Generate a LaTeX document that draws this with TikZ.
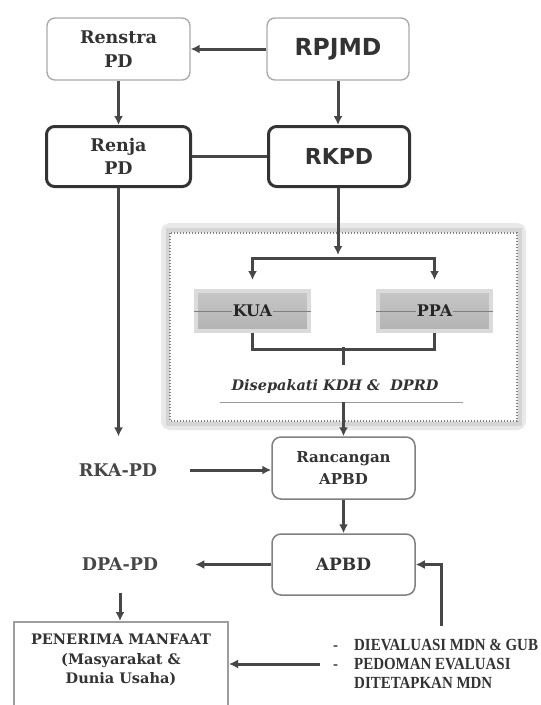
\documentclass[tikz,border=0pt]{standalone}
\usepackage{fontspec}
\setmainfont{DejaVu Serif}
\newfontfamily\sansb{DejaVu Sans}
\newfontfamily\bulfont{Liberation Serif}[FakeStretch=0.88]
\usetikzlibrary{arrows.meta}
\definecolor{ln}{HTML}{474747}
\definecolor{txt}{HTML}{333333}
\tikzset{
  lightbox/.style={draw=black!33, line width=1.4pt, rounded corners=8pt, fill=white, align=center, text=txt},
  darkbox/.style={draw=black!80, line width=3pt, rounded corners=8pt, fill=white, align=center, text=txt},
  midbox/.style={draw=black!50, line width=1.5pt, rounded corners=9pt, fill=white, align=center, text=txt},
  graybox/.style={draw=black!14, line width=4pt, top color=black!22, middle color=black!40, bottom color=black!30, minimum width=113pt, minimum height=40pt, inner sep=0pt},
  conn/.style={draw=ln, line width=3pt},
  arr/.style={conn, -{Latex[length=9pt,width=9pt]}},
  lbl/.style={text=black!72, font=\fontsize{17.5}{21}\selectfont\bfseries, inner sep=0pt},
  twoline/.style={font=\fontsize{17.5}{23.5}\selectfont\bfseries},
}
\begin{document}
\begin{tikzpicture}[x=1pt,y=-1pt]
\useasboundingbox[fill=white] (0,0) rectangle (541,705);

% dotted agreement frame
\draw[line width=10pt, black!9, rounded corners=4pt] (166,228) rectangle (521,425);
\draw[line width=4pt, black!17] (167.5,229.5) rectangle (519.5,423.5);
\fill[white] (170,233) rectangle (517,421);
\draw[black!50, line width=1.1pt, dash pattern=on 1.4pt off 1.6pt] (170,233) rectangle (517,421);

% top boxes
\node[lightbox, twoline, minimum width=143pt, minimum height=62pt] (renstra) at (118.5,49) {Renstra\\PD};
\node[lightbox, minimum width=142pt, minimum height=62pt, font=\sansb\fontsize{23.5}{26}\selectfont\bfseries] (rpjmd) at (338,49) {RPJMD};
\node[darkbox, twoline, minimum width=144pt, minimum height=60pt] (renja) at (118.5,156.5) {Renja\\PD};
\node[darkbox, minimum width=141pt, minimum height=60pt, font=\sansb\fontsize{22}{26}\selectfont\bfseries] (rkpd) at (339,156.5) {RKPD};

% KUA / PPA
\node[graybox] (kua) at (252.5,311) {};
\node[inner sep=1pt, text=black!85, font=\fontsize{16}{18}\selectfont\bfseries] (kuat) at (kua) {KUA};
\node[graybox] (ppa) at (434.5,311) {};
\node[inner sep=1pt, text=black!85, font=\fontsize{16}{18}\selectfont\bfseries] (ppat) at (ppa) {PPA};
\draw[black!50, line width=0.6pt] (kua.west) -- (kuat.west) (kuat.east) -- (kua.east);
\draw[black!50, line width=0.6pt] (ppa.west) -- (ppat.west) (ppat.east) -- (ppa.east);

\node[text=txt, font=\fontsize{14.5}{17}\selectfont\bfseries\itshape, inner sep=0pt] (sep) at (335,386) {Disepakati KDH \&\ \ DPRD};
\coordinate (ul1) at (220,402);
\coordinate (ul2) at (463,402);
\draw[black!40, line width=0.6pt] (ul1) -- (ul2);

% lower boxes
\node[midbox, font=\fontsize{15}{22}\selectfont\bfseries, minimum width=143pt, minimum height=62pt] (ranc) at (343.5,468) {Rancangan\\APBD};
\node[midbox, font=\fontsize{17}{20}\selectfont\bfseries, minimum width=143pt, minimum height=61pt] (apbd) at (343.5,564.5) {APBD};

\node[lbl] (rka) at (118,470) {RKA-PD};
\node[lbl] (dpa) at (120,564) {DPA-PD};

% beneficiaries box
\node[draw=black!38, line width=2pt, minimum width=214pt, minimum height=100pt, inner sep=0pt] (penbox) at (121,672) {};
\node[text=txt, align=center, font=\fontsize{14.5}{19.5}\selectfont\bfseries, inner sep=0pt] (pen) at (121,660) {PENERIMA MANFAAT\\(Masyarakat \&\\Dunia Usaha)};

% evaluation notes
\node[anchor=west, align=left, text=txt, inner sep=0pt, font=\bulfont\bfseries\fontsize{17}{19}\selectfont] (bul) at (333,664)
  {\makebox[21pt][l]{-}DIEVALUASI MDN \& GUB\\\makebox[21pt][l]{-}PEDOMAN EVALUASI\\\hspace*{21pt}DITETAPKAN MDN};

% connectors
\draw[arr] (rpjmd.west) -- (renstra.east);
\draw[arr] (renstra.south) -- (renja.north);
\draw[arr] (rpjmd.south) -- (rpjmd.south |- rkpd.north);
\draw[conn] (renja.east) -- (renja.east -| rkpd.west);
\draw[arr, shorten >=27pt] (renja.south) -- (renja.south |- rka.north);

\coordinate (br) at (338,258);
\coordinate (rt) at (338,255);
\draw[arr] (rkpd.south -| rt) -- (rt);
\draw[conn, {Latex[length=9pt,width=9pt]}-{Latex[length=9pt,width=9pt]}, shorten <=9pt, shorten >=9pt] (kua.north) |- (br) -| (ppa.north);
\draw[conn] (kua.south) -- ++(0,16) -| (ppa.south);
\coordinate (tk) at (343,347);
\draw[conn] (tk) -- ++(0,18);
\coordinate (d1) at (343.5,402);
\draw[arr] (d1) -- (ranc.north);

\draw[arr, shorten <=33pt] (rka.east) -- (rka.east -| ranc.west);
\draw[arr] (ranc.south) -- (apbd.north);
\draw[arr, shorten >=37pt] (apbd.west) -- (apbd.west -| dpa.east);
\draw[arr, shorten <=22pt] (dpa.south) -- (dpa.south |- penbox.north);

\coordinate (bs) at (320,664);
\draw[arr] (bs) -- (bs -| penbox.east);
\coordinate (hk) at (441,626);
\draw[arr] (hk) |- (apbd.east);
\end{tikzpicture}
\end{document}
